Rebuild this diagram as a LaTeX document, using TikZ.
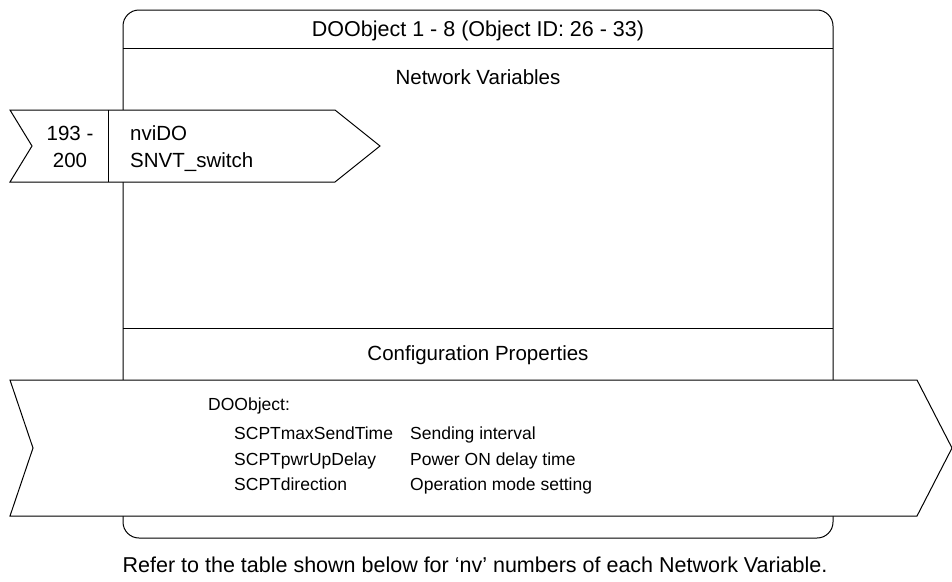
\documentclass[tikz,border=0pt]{standalone}
\usepackage{fontspec}
\setmainfont{Liberation Sans}
\usetikzlibrary{positioning}

\begin{document}
\begin{tikzpicture}[
x=1pt, y=-1pt,
font=\fontsize{20.5}{26}\selectfont,
frame/.style={line width=1pt},
tag/.style={frame, fill=white, line join=miter},
txt/.style={inner sep=0pt, anchor=base west},
small/.style={txt, font=\fontsize{17.5}{22}\selectfont},
head/.style={inner sep=0pt, anchor=base}
]
    \useasboundingbox (0,0) rectangle (952,581);

    % Object box
    \draw[frame, rounded corners=16] (123,10) rectangle (833,538);
    \draw[frame] (123,48) -- (833,48);
    \draw[frame] (123,328) -- (833,328);

    \node[head, font=\fontsize{21.5}{26}\selectfont] (title) at (478,36) {DOObject 1 - 8 (Object ID: 26 - 33)};
    \node[head] (nvhead) at (478,84) {Network Variables};
    \node[head] (cphead) at (478,360) {Configuration Properties};

    % Network variable tag
    \draw[tag] (10,110) -- (335,110) -- (380,146) -- (335,182)
        -- (10,182) -- (32,146) -- cycle;
    \draw[frame] (108,110) -- (108,182);

    \node[head] (nvnum) at (70,140) {193 -};
    \node[head, below=27pt of nvnum.base, anchor=base] (nvnum2) {200};
    \node[txt] (nvname) at (130,140) {nviDO};
    \node[txt] (nvtype) at (130,167) {SNVT\_switch};

    % Configuration property tag
    \draw[tag] (10,380) -- (917,380) -- (952,448) -- (917,516)
        -- (10,516) -- (33,448) -- cycle;

    \node[small] (cpobj) at (208,410.5) {DOObject:};
    \node[small] (cp1) at (234,439.5) {SCPTmaxSendTime};
    \node[small] (cp2) at (234,465) {SCPTpwrUpDelay};
    \node[small] (cp3) at (234,490.5) {SCPTdirection};
    \node[small] (cd1) at (410,439.5) {Sending interval};
    \node[small] (cd2) at (410,465) {Power ON delay time};
    \node[small] (cd3) at (410,490.5) {Operation mode setting};

    % Note
    \node[head, font=\fontsize{21.5}{26}\selectfont] (note) at (475,572) {Refer to the table shown below for ‘nv’ numbers of each Network Variable.};

\end{tikzpicture}
\end{document}
